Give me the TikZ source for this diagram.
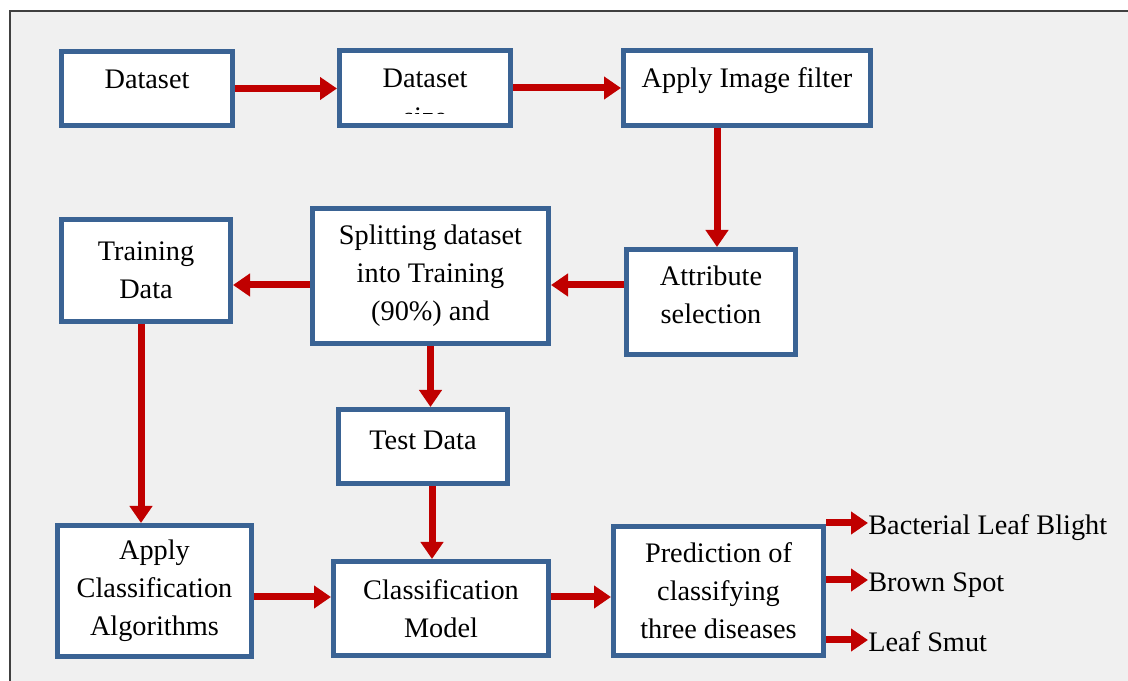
\documentclass[tikz,border=0pt]{standalone}
\usepackage{fontspec}
\setmainfont{Liberation Serif}
\usepackage{xcolor}
\usetikzlibrary{arrows.meta}
\def\panelarea{(0.2,0.0) rectangle (22.56,13.4)}
\def\panelframe{(0.2,0.0) -- (0.2,13.4) -- (22.56,13.4)}
\definecolor{box edge}{RGB}{58,99,148}
\definecolor{flow red}{RGB}{192,0,0}
\definecolor{panel}{RGB}{240,240,240}
\colorlet{frame edge}{black!75}
\tikzset{stepbox/.style={draw=box edge, fill=white, line width=0.1cm, align=center, inner sep=2pt},
    topline/.style={text height=0.4cm, text depth=0.4cm},
    flow/.style={draw=flow red, line width=0.14cm, -{Triangle[length=0.34cm,width=0.44cm]}},
    outcome/.style={anchor=west, inner sep=0pt, text height=0.58cm, text depth=0.1cm}}

\begin{document}
\begin{tikzpicture}[every node/.style={font=\fontsize{16.1pt}{21.6pt}\selectfont}]
    \useasboundingbox (0,0) rectangle (22.56,13.62);
    \fill[panel] \panelarea;
    \draw[frame edge, line width=0.04cm] \panelframe;

    % top row
    \node[stepbox, topline, minimum width=3.42cm, minimum height=1.48cm] (data) at (2.94,11.85) {Dataset};
    \node[stepbox, topline, minimum width=3.42cm, minimum height=1.50cm] (sizebox) at (8.50,11.86) {Dataset};
    \begin{scope}
        \clip (6.74,11.35) rectangle (10.26,11.62);
        \node[anchor=base] (sizecut) at (8.50,11.08) {size};
    \end{scope}
    \node[stepbox, topline, minimum width=4.94cm, minimum height=1.50cm] (filter) at (14.94,11.86) {Apply Image filter};

    % middle row
    \node[stepbox, text depth=0.28cm, minimum width=3.38cm, minimum height=2.10cm] (attrib) at (14.22,7.58) {Attribute\\selection};
    \node[stepbox, minimum width=4.72cm, minimum height=2.70cm] (split) at (8.61,8.10) {Splitting dataset\\into Training\\(90\%) and};
    \node[stepbox, minimum width=3.38cm, minimum height=2.04cm] (train) at (2.92,8.21) {Training\\Data};
    \node[stepbox, text depth=0.24cm, minimum width=3.38cm, minimum height=1.48cm] (test) at (8.46,4.69) {Test Data};

    % bottom row
    \node[stepbox, minimum width=3.88cm, minimum height=2.62cm] (algo) at (3.09,1.80) {Apply\\Classification\\Algorithms};
    \node[stepbox, minimum width=4.30cm, minimum height=1.88cm] (model) at (8.82,1.45) {Classification\\Model};
    \node[stepbox, minimum width=4.20cm, minimum height=2.58cm] (predict) at (14.37,1.80) {Prediction of\\classifying\\three diseases};

    \node[outcome] (blight) at (17.36,3.16) {Bacterial Leaf Blight};
    \node[outcome] (brown) at (17.36,2.02) {Brown Spot};
    \node[outcome] (smut) at (17.36,0.82) {Leaf Smut};

    % arrows
    \draw[flow] (data.east) -- (data.east -| sizebox.west);
    \draw[flow] (sizebox.east) -- (sizebox.east -| filter.west);
    \draw[flow] ([xshift=0.12cm]attrib.north |- filter.south) -- ([xshift=0.12cm]attrib.north);
    \draw[flow] ([yshift=0.34cm]attrib.west) -- ([yshift=0.34cm]attrib.west -| split.east);
    \draw[flow] ([yshift=-0.18cm]split.west) -- ([yshift=-0.18cm]split.west -| train.east);
    \draw[flow] (split.south) -- (split.south |- test.north);
    \draw[flow] ([xshift=0.18cm]test.south) -- ([xshift=0.18cm]test.south |- model.north);
    \draw[flow] ([xshift=-0.1cm]train.south) -- ([xshift=-0.1cm]train.south |- algo.north);
    \draw[flow] ([yshift=-0.12cm]algo.east) -- ([yshift=-0.12cm]algo.east -| model.west);
    \draw[flow] ([yshift=0.23cm]model.east) -- ([yshift=0.23cm]model.east -| predict.west);
    \draw[flow] (predict.east |- blight.west) -- (blight.west);
    \draw[flow] (predict.east |- brown.west) -- (brown.west);
    \draw[flow] (predict.east |- smut.west) -- (smut.west);
\end{tikzpicture}
\end{document}
